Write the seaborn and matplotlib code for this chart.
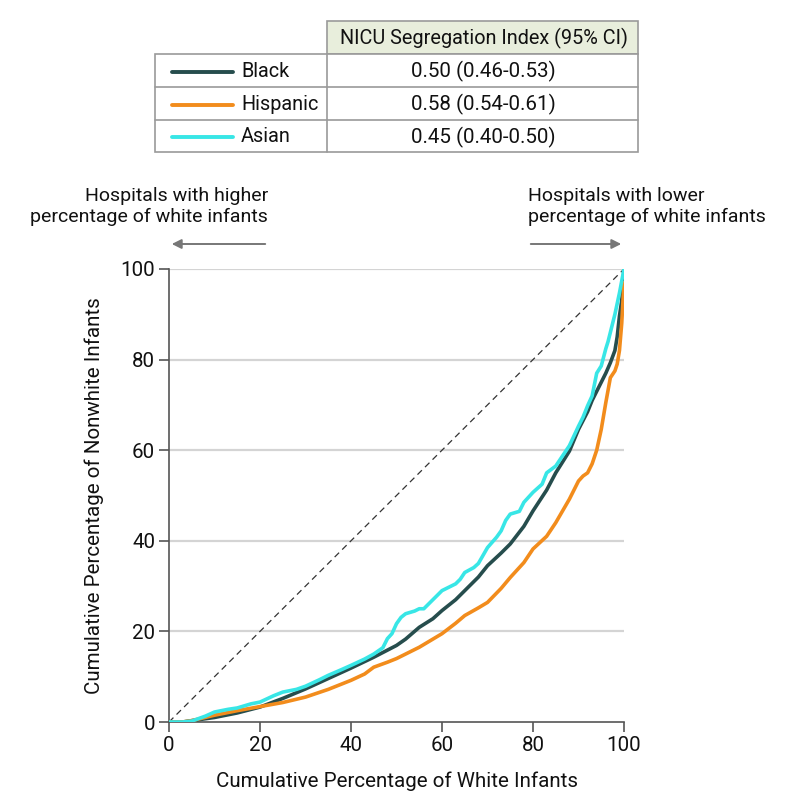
import matplotlib
matplotlib.use("Agg")
import matplotlib.pyplot as plt
import seaborn as sns
import pandas as pd
from matplotlib.lines import Line2D
from matplotlib.patches import Rectangle, FancyArrowPatch

# ---- data ----
groups = ["Black", "Hispanic", "Asian"]
index_labels = ["0.50 (0.46-0.53)", "0.58 (0.54-0.61)", "0.45 (0.40-0.50)"]
colors = ["#264d4d", "#f28c1c", "#38e6e6"]

black_x = [0, 3, 5, 10, 15, 20, 25, 30, 35, 40, 45, 50, 52, 55, 58, 60, 63, 65, 68, 70,
           73, 75, 78, 80, 83, 85, 88, 90, 92, 93, 95, 96, 97, 98, 98.5, 99, 99.5, 100]
black_y = [0, 0, 0.3, 1.0, 2.0, 3.3, 5.2, 7.3, 9.6, 11.9, 14.3, 16.9, 18.3, 20.9, 22.8, 24.6,
           27.0, 29.0, 32.0, 34.5, 37.3, 39.3, 43.2, 46.6, 51.2, 55, 59.8, 64.6, 68.5, 71,
           75, 77, 79.3, 82, 85, 89.6, 93, 100]

hisp_x = [0, 3, 5, 10, 15, 20, 25, 30, 35, 40, 43, 45, 48, 50, 53, 55, 58, 60, 63, 65, 68,
          70, 73, 75, 78, 80, 83, 85, 88, 90, 91, 92, 93, 94, 95, 96, 97, 98, 98.5, 99,
          99.5, 100]
hisp_y = [0, 0, 0.3, 1.5, 2.5, 3.4, 4.3, 5.5, 7.2, 9.2, 10.6, 12.1, 13.2, 14.0, 15.5, 16.5,
          18.3, 19.5, 21.8, 23.5, 25.2, 26.4, 29.5, 31.9, 35.2, 38.2, 41, 44, 49.2, 53.2,
          54.3, 55, 57, 60, 64.6, 70.5, 76, 77.5, 79, 82, 88, 97]

asian_x = [0, 3, 5, 8, 10, 13, 15, 18, 20, 23, 25, 28, 30, 33, 35, 38, 40, 43, 45, 47, 48,
           49, 50, 51, 52, 54, 55, 56, 57, 58, 60, 62, 63, 64, 65, 67, 68, 70, 72, 73, 74,
           75, 77, 78, 80, 82, 83, 85, 86, 88, 90, 91, 92, 93, 94, 95, 96, 96.5, 97, 98,
           99, 100]
asian_y = [0, 0, 0.2, 1.3, 2.2, 2.8, 3.1, 4.0, 4.4, 5.8, 6.6, 7.2, 7.9, 9.3, 10.3, 11.6,
           12.5, 13.9, 15.0, 16.4, 18.4, 19.5, 21.7, 23.1, 23.9, 24.5, 25, 25.0, 26, 27,
           29, 30, 30.5, 31.5, 33, 34.1, 35, 38.5, 40.8, 42.2, 44.5, 45.9, 46.5, 48.5,
           50.7, 52.5, 55, 56.5, 58, 61, 65.3, 67.3, 69.8, 72, 77, 78.6, 82.4, 84, 86,
           90, 94.7, 100]

ticks = [0, 20, 40, 60, 80, 100]

frames = []
for g, xs, ys in [("Black", black_x, black_y), ("Hispanic", hisp_x, hisp_y),
                  ("Asian", asian_x, asian_y)]:
    frames.append(pd.DataFrame({"x": xs, "y": ys, "group": g}))
df = pd.concat(frames, ignore_index=True)

# ---- style ----
sns.set_style("white")
plt.rcParams["font.family"] = ["Roboto", "DejaVu Sans"]

W, H = 794, 808
fig = plt.figure(figsize=(W / 100, H / 100), dpi=100)

def fx(px):
    return px / W

def fy(py):
    return 1 - py / H

ax = fig.add_axes([fx(169), fy(722), fx(624) - fx(169), fy(269) - fy(722)])

for yv in ticks[1:]:
    ax.axhline(yv, color="#d4d4d4", lw=1.6, zorder=0)

ax.plot([0, 100], [0, 100], ls=(0, (5, 3.5)), color="#333333", lw=0.9, zorder=1)

sns.lineplot(data=df, x="x", y="y", hue="group", hue_order=groups,
             palette=colors, lw=2.6, legend=False, sort=False, ax=ax,
             estimator=None, zorder=3)

ax.set_xlim(0, 100)
ax.set_ylim(0, 100)
ax.set_xticks(ticks)
ax.set_yticks(ticks)
for s in ["top", "right"]:
    ax.spines[s].set_visible(False)
for s in ["left", "bottom"]:
    ax.spines[s].set_color("#555555")
    ax.spines[s].set_linewidth(1.2)
ax.tick_params(axis="both", direction="out", length=7, width=1.2, color="#555555",
               labelsize=14.8, labelcolor="#111111", pad=3, bottom=True, left=True)
ax.set_xlabel("Cumulative Percentage of White Infants", fontsize=14.8, labelpad=12,
              color="#111111")
ax.set_ylabel("Cumulative Percentage of Nonwhite Infants", fontsize=14.8, labelpad=12,
              color="#111111")

# ---- annotations above axes ----
fig.text(fx(268), fy(187), "Hospitals with higher\npercentage of white infants",
         ha="right", va="top", fontsize=14, linespacing=1.19, color="#111111")
fig.text(fx(528), fy(187), "Hospitals with lower\npercentage of white infants",
         ha="left", va="top", fontsize=14, linespacing=1.19, color="#111111")
arrow_kw = dict(arrowstyle="-|>", color="#777777", lw=1.4, mutation_scale=14)
fig.add_artist(FancyArrowPatch((fx(268), fy(244)), (fx(169), fy(244)),
                               transform=fig.transFigure, **arrow_kw))
fig.add_artist(FancyArrowPatch((fx(528), fy(244)), (fx(624), fy(244)),
                               transform=fig.transFigure, **arrow_kw))

# ---- table ----
tab = fig.add_axes([0, 0, 1, 1], facecolor="none")
tab.set_xlim(0, W)
tab.set_ylim(H, 0)
tab.axis("off")
bc = "#9a9a9a"
L, M, R = 155, 327, 638
rows_y = [21, 54, 87, 120, 152]
tab.add_patch(Rectangle((M, rows_y[0]), R - M, rows_y[1] - rows_y[0],
                        facecolor="#e8eedc", edgecolor=bc, lw=1.2))
tab.add_patch(Rectangle((L, rows_y[1]), R - L, rows_y[4] - rows_y[1],
                        facecolor="white", edgecolor=bc, lw=1.2))
for yy in rows_y[2:4]:
    tab.add_line(Line2D([L, R], [yy, yy], color=bc, lw=1.2))
tab.add_line(Line2D([M, M], [rows_y[1], rows_y[4]], color=bc, lw=1.2))
tab.text((M + R) / 2 + 1, (rows_y[0] + rows_y[1]) / 2 + 1, "NICU Segregation Index (95% CI)",
         ha="center", va="center", fontsize=14.3, color="#111111")
for i, (g, lab, c) in enumerate(zip(groups, index_labels, colors)):
    yc = (rows_y[i + 1] + rows_y[i + 2]) / 2 + 1
    tab.add_line(Line2D([172, 233], [yc, yc], color=c, lw=2.8))
    tab.text(241, yc, g, ha="left", va="center", fontsize=14.3, color="#111111")
    tab.text((M + R) / 2 + 1, yc, lab, ha="center", va="center", fontsize=14.8,
             color="#111111")

fig.savefig("out.png", dpi=100)
